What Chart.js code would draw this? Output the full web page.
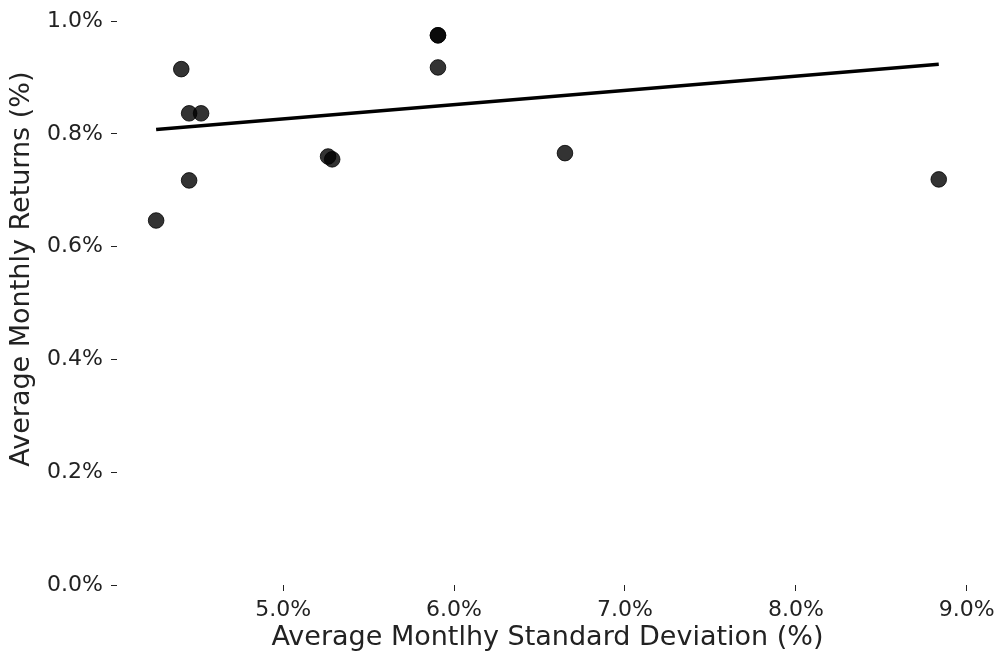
<!DOCTYPE html>
<html>
<head>
<meta charset="utf-8">
<script src="https://cdn.jsdelivr.net/npm/chart.js@4/dist/chart.umd.min.js"></script>
<style>
  html, body { margin: 0; padding: 0; background: #fff; }
  canvas { display: block; }
</style>
</head>
<body>
<canvas id="c" width="1001" height="659"></canvas>
<script>
// Average monthly standard deviation (%) per asset
const stdDev = [4.257, 4.404, 4.450, 4.520, 4.450, 5.263, 5.287, 5.906, 5.906, 5.906, 6.649, 8.836];
// Average monthly returns (%) per asset
const avgReturn = [0.6465, 0.915, 0.8366, 0.8366, 0.7176, 0.760, 0.755, 0.975, 0.975, 0.918, 0.766, 0.7194];
// Fitted trend line endpoints
const trendX = [4.257, 8.836];
const trendY = [0.808, 0.9236];
// Axis tick values
const xTicks = [5, 6, 7, 8, 9];
const yTicks = [0, 0.2, 0.4, 0.6, 0.8, 1.0];

const FONT = "'DejaVu Sans', sans-serif";
const Y_TITLE = 'Average Monthly Returns (%)';

const points = stdDev.map((x, i) => ({ x, y: avgReturn[i] }));
const trend = trendX.map((x, i) => ({ x, y: trendY[i] }));

// Vertical y-axis title, centred a little above the middle of the axis
const yTitlePlugin = {
  id: 'yTitle',
  afterDraw(chart) {
    const { ctx, scales: { y } } = chart;
    const cy = (y.top + y.bottom) / 2 - 34;
    ctx.save();
    ctx.translate(22, cy);
    ctx.rotate(-Math.PI / 2);
    ctx.font = `27px ${FONT}`;
    ctx.fillStyle = '#222';
    ctx.textAlign = 'center';
    ctx.textBaseline = 'middle';
    ctx.fillText(Y_TITLE, 0, 0);
    ctx.restore();
  }
};

new Chart(document.getElementById('c'), {
  type: 'scatter',
  data: {
    datasets: [
      {
        type: 'line',
        data: trend,
        borderColor: '#000',
        borderWidth: 3.5,
        pointRadius: 0,
        fill: false,
        order: 0
      },
      {
        data: points,
        backgroundColor: 'rgba(0,0,0,0.8)',
        borderColor: 'rgba(0,0,0,0.8)',
        borderWidth: 1,
        pointRadius: 7.8,
        pointHoverRadius: 7.8,
        order: 1
      }
    ]
  },
  plugins: [yTitlePlugin],
  options: {
    responsive: false,
    animation: false,
    devicePixelRatio: 1,
    layout: { padding: { top: 21, right: 21, bottom: 0, left: 0 } },
    plugins: { legend: { display: false }, tooltip: { enabled: false } },
    scales: {
      x: {
        type: 'linear',
        min: 4.028,
        max: 9.065,
        border: { display: false },
        grid: { drawOnChartArea: false, drawTicks: true, tickLength: 6, tickColor: '#222', tickWidth: 1 },
        afterBuildTicks: s => { s.ticks = xTicks.map(v => ({ value: v })); },
        afterFit: s => { s.height = 74; },
        ticks: {
          color: '#222',
          padding: 6,
          font: { family: FONT, size: 22 },
          maxRotation: 0,
          callback: v => v.toFixed(1) + '%'
        },
        title: {
          display: true,
          text: 'Average Montlhy Standard Deviation (%)',
          color: '#222',
          font: { family: FONT, size: 27 },
          padding: { top: 0, bottom: 5 }
        }
      },
      y: {
        type: 'linear',
        min: 0,
        max: 1.0,
        border: { display: false },
        grid: { drawOnChartArea: false, drawTicks: true, tickLength: 6, tickColor: '#222', tickWidth: 1 },
        afterBuildTicks: s => { s.ticks = yTicks.map(v => ({ value: v })); },
        afterFit: s => { s.width = 117; },
        ticks: {
          color: '#222',
          padding: 8,
          font: { family: FONT, size: 22 },
          callback: v => v.toFixed(1) + '%'
        },
        title: { display: false }
      }
    }
  }
});
</script>
</body>
</html>
